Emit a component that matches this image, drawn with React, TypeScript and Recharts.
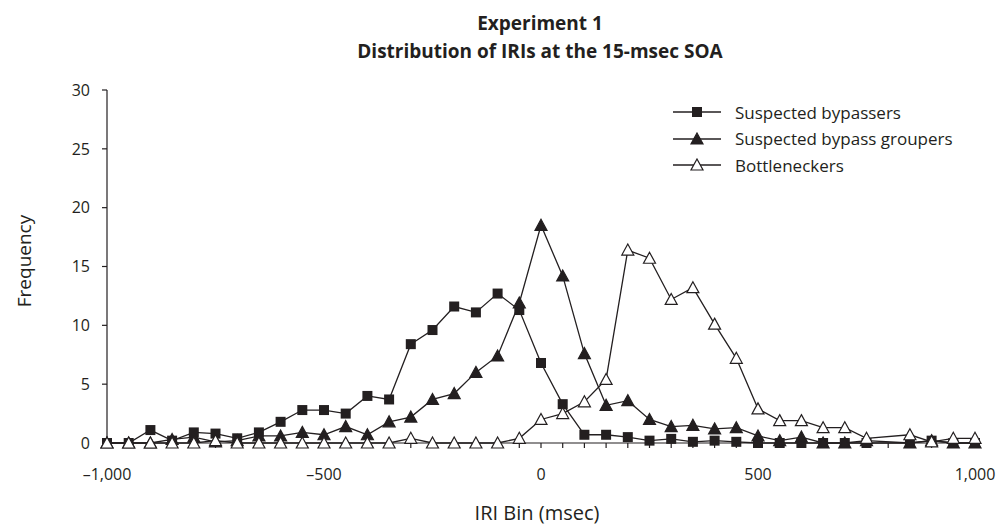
import { LineChart, Line, XAxis, YAxis } from 'recharts';

const bins = [
  -1000, -950, -900, -850, -800, -750, -700, -650, -600, -550, -500,
  -450, -400, -350, -300, -250, -200, -150, -100, -50, 0,
  50, 100, 150, 200, 250, 300, 350, 400, 450, 500,
  550, 600, 650, 700, 750, 800, 850, 900, 950, 1000,
];

// null = no data point in that bin (line is drawn straight across)
const bypassers = [
  0, 0, 1.1, 0.2, 0.9, 0.8, 0.4, 0.9, 1.8, 2.8, 2.8,
  2.5, 4.0, 3.7, 8.4, 9.6, 11.6, 11.1, 12.7, 11.3, 6.8,
  3.3, 0.7, 0.7, 0.5, 0.2, 0.35, 0.1, 0.2, 0.1, 0,
  0, 0, 0, 0, 0, null, 0, 0.2, 0, 0,
];

const groupers = [
  0, 0, 0, 0.3, 0.5, 0.1, 0.2, 0.6, 0.6, 0.9, 0.7,
  1.4, 0.7, 1.8, 2.2, 3.7, 4.2, 6.0, 7.4, 11.9, 18.5,
  14.2, 7.6, 3.2, 3.6, 2.0, 1.4, 1.5, 1.2, 1.3, 0.6,
  0.2, 0.5, 0, 0, 0.2, null, 0, 0.2, 0, 0,
];

const bottleneckers = [
  0, 0, 0, 0, 0, 0.2, 0, 0, 0, 0, 0,
  0, 0, 0, 0.4, 0, 0, 0, 0, 0.4, 2.0,
  2.5, 3.5, 5.4, 16.4, 15.7, 12.2, 13.2, 10.1, 7.2, 2.9,
  1.9, 1.9, 1.3, 1.3, 0.4, null, 0.7, 0.1, 0.4, 0.4,
];

const yTicks = [0, 5, 10, 15, 20, 25, 30];
const xLabelled = [-1000, -500, 0, 500, 1000];

const chartData = bins.map((bin, i) => ({
  bin,
  bypassers: bypassers[i],
  groupers: groupers[i],
  bottleneckers: bottleneckers[i],
}));

const INK = '#231f20';
const FONT = '"Open Sans", sans-serif';

function fmt(v: number) {
  if (v === 0) return '0';
  const s = Math.abs(v).toLocaleString('en-US');
  return v < 0 ? '\u2013' + s : s;
}

function XTick(props: any) {
  const { x, y, payload } = props;
  if (!xLabelled.includes(payload.value)) return <g />;
  return (
    <text x={x} y={y + 30} textAnchor="middle" fill={INK} fontSize={16} fontFamily={FONT}>
      {fmt(payload.value)}
    </text>
  );
}

function Square(props: any) {
  const { cx, cy } = props;
  if (cx == null || cy == null || props.value == null) return <g />;
  return <rect x={cx - 5} y={cy - 5} width={10} height={10} fill={INK} />;
}

function Tri(filled: boolean) {
  return (props: any) => {
    const { cx, cy } = props;
    if (cx == null || cy == null || props.value == null) return <g />;
    return (
      <path
        d={`M${cx},${cy - 6} L${cx + 6},${cy + 5} L${cx - 6},${cy + 5} Z`}
        fill={filled ? INK : '#fff'}
        stroke={INK}
        strokeWidth={1.2}
      />
    );
  };
}

function LegendIcon({ kind }: { kind: string }) {
  return (
    <svg width={48} height={14} style={{ display: 'block' }}>
      <line x1={0} y1={7} x2={48} y2={7} stroke={INK} strokeWidth={1.3} />
      {kind === 'square' && <rect x={19} y={2} width={10} height={10} fill={INK} />}
      {kind !== 'square' && (
        <path d="M24,1 L30,12 L18,12 Z" fill={kind === 'filled' ? INK : '#fff'} stroke={INK} strokeWidth={1.2} />
      )}
    </svg>
  );
}

const legendRows = [
  { label: 'Suspected bypassers', kind: 'square', y: 112 },
  { label: 'Suspected bypass groupers', kind: 'filled', y: 138.5 },
  { label: 'Bottleneckers', kind: 'open', y: 165 },
];

export default function App() {
  return (
    <div
      style={{
        position: 'absolute',
        left: 0,
        top: 0,
        width: 1001,
        height: 524,
        background: '#fff',
        fontFamily: FONT,
        color: INK,
      }}
    >
      <div
        style={{
          position: 'absolute',
          left: 240,
          width: 600,
          top: 9,
          textAlign: 'center',
          fontWeight: 700,
          fontSize: 19,
          lineHeight: '28px',
        }}
      >
        Experiment 1
        <br />
        Distribution of IRIs at the 15-msec SOA
      </div>

      <LineChart
        width={1001}
        height={524}
        data={chartData}
        margin={{ top: 90, right: 26, bottom: 51, left: 0 }}
      >
        <XAxis
          dataKey="bin"
          type="number"
          domain={[-1000, 1000]}
          ticks={bins}
          interval={0}
          tick={<XTick />}
          tickSize={5}
          height={30}
          axisLine={{ stroke: INK, strokeWidth: 1.2 }}
          tickLine={{ stroke: INK, strokeWidth: 1.2 }}
        />
        <YAxis
          domain={[0, 30]}
          ticks={yTicks}
          width={107}
          tickSize={5}
          tickMargin={12}
          tick={{ fill: INK, fontSize: 16, fontFamily: FONT }}
          axisLine={{ stroke: INK, strokeWidth: 1.2 }}
          tickLine={{ stroke: INK, strokeWidth: 1.2 }}
        />
        <Line
          dataKey="bypassers"
          stroke={INK}
          strokeWidth={1.3}
          dot={Square}
          connectNulls
          isAnimationActive={false}
        />
        <Line
          dataKey="groupers"
          stroke={INK}
          strokeWidth={1.3}
          dot={Tri(true)}
          connectNulls
          isAnimationActive={false}
        />
        <Line
          dataKey="bottleneckers"
          stroke={INK}
          strokeWidth={1.3}
          dot={Tri(false)}
          connectNulls
          isAnimationActive={false}
        />
      </LineChart>

      {legendRows.map((r) => (
        <div
          key={r.label}
          style={{
            position: 'absolute',
            left: 673,
            top: r.y - 11,
            height: 22,
            display: 'flex',
            alignItems: 'center',
            fontSize: 17,
            whiteSpace: 'nowrap',
          }}
        >
          <LegendIcon kind={r.kind} />
          <span style={{ marginLeft: 14 }}>{r.label}</span>
        </div>
      ))}

      <div
        style={{
          position: 'absolute',
          left: 24,
          top: 261,
          transform: 'translate(-50%, -50%) rotate(-90deg)',
          fontSize: 19,
          whiteSpace: 'nowrap',
        }}
      >
        Frequency
      </div>

      <div
        style={{
          position: 'absolute',
          left: 237,
          width: 600,
          top: 501,
          textAlign: 'center',
          fontSize: 20,
          lineHeight: '24px',
        }}
      >
        IRI Bin (msec)
      </div>
    </div>
  );
}
